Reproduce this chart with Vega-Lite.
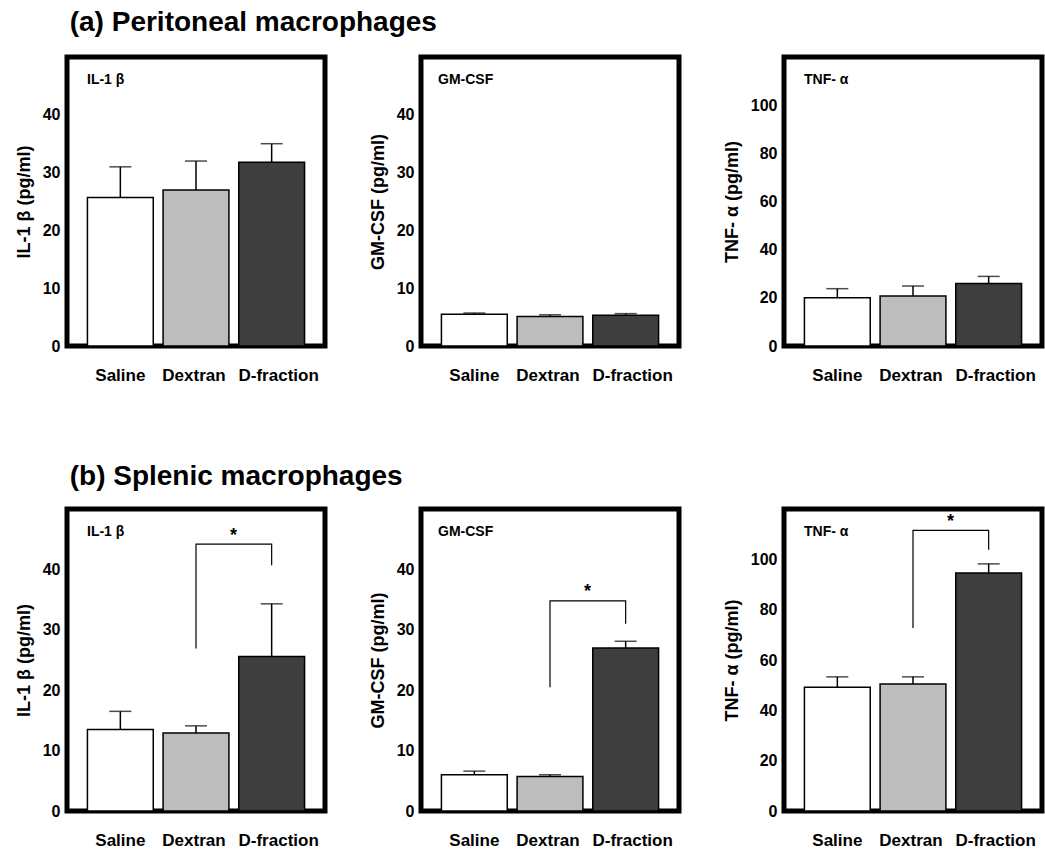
{
  "$schema": "https://vega.github.io/schema/vega-lite/v6.json",
  "padding": {"left": 12, "top": 8, "right": 0, "bottom": 0},
  "background": "white",
  "datasets": {
    "bars": [
      {"set": "a", "cyt": "IL", "group": "Saline", "mean": 25.7, "upper": 31.0},
      {"set": "a", "cyt": "IL", "group": "Dextran", "mean": 27.0, "upper": 32.0},
      {"set": "a", "cyt": "IL", "group": "D-fraction", "mean": 31.8, "upper": 35.0},
      {"set": "a", "cyt": "GM", "group": "Saline", "mean": 5.5, "upper": 5.7},
      {"set": "a", "cyt": "GM", "group": "Dextran", "mean": 5.1, "upper": 5.4},
      {"set": "a", "cyt": "GM", "group": "D-fraction", "mean": 5.3, "upper": 5.6},
      {"set": "a", "cyt": "TNF", "group": "Saline", "mean": 20.0, "upper": 23.8},
      {"set": "a", "cyt": "TNF", "group": "Dextran", "mean": 20.8, "upper": 24.9},
      {"set": "a", "cyt": "TNF", "group": "D-fraction", "mean": 25.9, "upper": 28.9},
      {"set": "b", "cyt": "IL", "group": "Saline", "mean": 13.5, "upper": 16.5},
      {"set": "b", "cyt": "IL", "group": "Dextran", "mean": 12.9, "upper": 14.1},
      {"set": "b", "cyt": "IL", "group": "D-fraction", "mean": 25.6, "upper": 34.3},
      {"set": "b", "cyt": "GM", "group": "Saline", "mean": 6.0, "upper": 6.6},
      {"set": "b", "cyt": "GM", "group": "Dextran", "mean": 5.7, "upper": 6.0},
      {"set": "b", "cyt": "GM", "group": "D-fraction", "mean": 27.0, "upper": 28.1},
      {"set": "b", "cyt": "TNF", "group": "Saline", "mean": 49.2, "upper": 53.3},
      {"set": "b", "cyt": "TNF", "group": "Dextran", "mean": 50.5, "upper": 53.3},
      {"set": "b", "cyt": "TNF", "group": "D-fraction", "mean": 94.6, "upper": 98.2}
    ],
    "brackets": [
      {"cyt": "IL", "group": "Dextran", "y": 26.9, "ord": 1},
      {"cyt": "IL", "group": "Dextran", "y": 44.2, "ord": 2},
      {"cyt": "IL", "group": "D-fraction", "y": 44.2, "ord": 3},
      {"cyt": "IL", "group": "D-fraction", "y": 40.7, "ord": 4},
      {"cyt": "GM", "group": "Dextran", "y": 20.5, "ord": 1},
      {"cyt": "GM", "group": "Dextran", "y": 34.8, "ord": 2},
      {"cyt": "GM", "group": "D-fraction", "y": 34.8, "ord": 3},
      {"cyt": "GM", "group": "D-fraction", "y": 31.0, "ord": 4},
      {"cyt": "TNF", "group": "Dextran", "y": 72.7, "ord": 1},
      {"cyt": "TNF", "group": "Dextran", "y": 111.5, "ord": 2},
      {"cyt": "TNF", "group": "D-fraction", "y": 111.5, "ord": 3},
      {"cyt": "TNF", "group": "D-fraction", "y": 103.8, "ord": 4}
    ],
    "stars": [
      {"cyt": "IL", "group": "Dextran", "y": 45.6, "label": "*"},
      {"cyt": "GM", "group": "Dextran", "y": 36.3, "label": "*"},
      {"cyt": "TNF", "group": "Dextran", "y": 115.0, "label": "*"}
    ]
  },
  "config": {
    "font": "Liberation Sans",
    "view": {"stroke": "black", "strokeWidth": 5},
    "axis": {
      "grid": false,
      "labelFont": "Liberation Sans",
      "titleFont": "Liberation Sans",
      "labelFontWeight": "bold",
      "titleFontWeight": "bold",
      "labelColor": "black",
      "titleColor": "black"
    },
    "axisX": {
      "domain": false, "ticks": false, "labelAngle": 0, "labelFontSize": 17, "labelPadding": 21,
      "labelOffset": {"condition": [{"test": "datum.value === 'D-fraction'", "value": 7}, {"test": "datum.value === 'Dextran'", "value": -2}], "value": 0}
    },
    "axisY": {"domain": false, "ticks": false, "labelFontSize": 16, "titleFontSize": 18, "labelPadding": 7, "titlePadding": 9},
    "concat": {"spacing": 76},
    "title": {"font": "Liberation Sans", "color": "black"}
  },
  "vconcat": [
    {
      "title": {"text": "(a) Peritoneal macrophages", "anchor": "start", "fontSize": 28, "fontWeight": "bold", "dx": 57, "offset": 18},
      "spacing": 38,
      "hconcat": [
        {
          "width": 258, "height": 289,
          "title": {"text": "IL-1 β", "anchor": "start", "frame": "group", "orient": "top", "offset": -30, "dx": 20, "fontSize": 14, "fontWeight": "bold"},
          "data": {"name": "bars"},
          "transform": [{"filter": "datum.set === 'a' && datum.cyt === 'IL'"}],
          "encoding": {"x": {"field": "group", "type": "nominal", "sort": ["Saline", "Dextran", "D-fraction"], "scale": {"paddingInner": 0.13, "paddingOuter": 0.27}, "title": null}},
          "layer": [
            {"mark": {"type": "bar", "stroke": "black", "strokeWidth": 1.5},
             "encoding": {"y": {"field": "mean", "type": "quantitative", "scale": {"domain": [0, 50]}, "axis": {"values": [0, 10, 20, 30, 40]}, "title": "IL-1 β  (pg/ml)"},
                          "fill": {"field": "group", "type": "nominal", "scale": {"domain": ["Saline", "Dextran", "D-fraction"], "range": ["#ffffff", "#bdbdbd", "#3e3e3e"]}, "legend": null}}},
            {"mark": {"type": "rule", "color": "black", "strokeWidth": 1.5}, "encoding": {"y": {"field": "mean", "type": "quantitative"}, "y2": {"field": "upper"}}},
            {"mark": {"type": "tick", "color": "black", "size": 22, "thickness": 1.5}, "encoding": {"y": {"field": "upper", "type": "quantitative"}}}
          ]
        },
        {
          "width": 258, "height": 289,
          "title": {"text": "GM-CSF", "anchor": "start", "frame": "group", "orient": "top", "offset": -30, "dx": 17, "fontSize": 14, "fontWeight": "bold"},
          "data": {"name": "bars"},
          "transform": [{"filter": "datum.set === 'a' && datum.cyt === 'GM'"}],
          "encoding": {"x": {"field": "group", "type": "nominal", "sort": ["Saline", "Dextran", "D-fraction"], "scale": {"paddingInner": 0.13, "paddingOuter": 0.27}, "title": null}},
          "layer": [
            {"mark": {"type": "bar", "stroke": "black", "strokeWidth": 1.5},
             "encoding": {"y": {"field": "mean", "type": "quantitative", "scale": {"domain": [0, 50]}, "axis": {"values": [0, 10, 20, 30, 40]}, "title": "GM-CSF (pg/ml)"},
                          "fill": {"field": "group", "type": "nominal", "scale": {"domain": ["Saline", "Dextran", "D-fraction"], "range": ["#ffffff", "#bdbdbd", "#3e3e3e"]}, "legend": null}}},
            {"mark": {"type": "rule", "color": "black", "strokeWidth": 1.5}, "encoding": {"y": {"field": "mean", "type": "quantitative"}, "y2": {"field": "upper"}}},
            {"mark": {"type": "tick", "color": "black", "size": 22, "thickness": 1.5}, "encoding": {"y": {"field": "upper", "type": "quantitative"}}}
          ]
        },
        {
          "width": 258, "height": 289,
          "title": {"text": "TNF- α", "anchor": "start", "frame": "group", "orient": "top", "offset": -30, "dx": 20, "fontSize": 14, "fontWeight": "bold"},
          "data": {"name": "bars"},
          "transform": [{"filter": "datum.set === 'a' && datum.cyt === 'TNF'"}],
          "encoding": {"x": {"field": "group", "type": "nominal", "sort": ["Saline", "Dextran", "D-fraction"], "scale": {"paddingInner": 0.13, "paddingOuter": 0.27}, "title": null}},
          "layer": [
            {"mark": {"type": "bar", "stroke": "black", "strokeWidth": 1.5},
             "encoding": {"y": {"field": "mean", "type": "quantitative", "scale": {"domain": [0, 120]}, "axis": {"values": [0, 20, 40, 60, 80, 100]}, "title": "TNF- α (pg/ml)"},
                          "fill": {"field": "group", "type": "nominal", "scale": {"domain": ["Saline", "Dextran", "D-fraction"], "range": ["#ffffff", "#bdbdbd", "#3e3e3e"]}, "legend": null}}},
            {"mark": {"type": "rule", "color": "black", "strokeWidth": 1.5}, "encoding": {"y": {"field": "mean", "type": "quantitative"}, "y2": {"field": "upper"}}},
            {"mark": {"type": "tick", "color": "black", "size": 22, "thickness": 1.5}, "encoding": {"y": {"field": "upper", "type": "quantitative"}}}
          ]
        }
      ]
    },
    {
      "title": {"text": "(b) Splenic macrophages", "anchor": "start", "fontSize": 28, "fontWeight": "bold", "dx": 57, "offset": 16},
      "spacing": 38,
      "hconcat": [
        {
          "width": 258, "height": 302,
          "title": {"text": "IL-1 β", "anchor": "start", "frame": "group", "orient": "top", "offset": -30, "dx": 20, "fontSize": 14, "fontWeight": "bold"},
          "encoding": {"x": {"field": "group", "type": "nominal", "sort": ["Saline", "Dextran", "D-fraction"], "scale": {"paddingInner": 0.13, "paddingOuter": 0.27}, "title": null}},
          "layer": [
            {"data": {"name": "bars"}, "transform": [{"filter": "datum.set === 'b' && datum.cyt === 'IL'"}],
             "mark": {"type": "bar", "stroke": "black", "strokeWidth": 1.5},
             "encoding": {"y": {"field": "mean", "type": "quantitative", "scale": {"domain": [0, 50]}, "axis": {"values": [0, 10, 20, 30, 40]}, "title": "IL-1 β  (pg/ml)"},
                          "fill": {"field": "group", "type": "nominal", "scale": {"domain": ["Saline", "Dextran", "D-fraction"], "range": ["#ffffff", "#bdbdbd", "#3e3e3e"]}, "legend": null}}},
            {"data": {"name": "bars"}, "transform": [{"filter": "datum.set === 'b' && datum.cyt === 'IL'"}],
             "mark": {"type": "rule", "color": "black", "strokeWidth": 1.5}, "encoding": {"y": {"field": "mean", "type": "quantitative"}, "y2": {"field": "upper"}}},
            {"data": {"name": "bars"}, "transform": [{"filter": "datum.set === 'b' && datum.cyt === 'IL'"}],
             "mark": {"type": "tick", "color": "black", "size": 22, "thickness": 1.5}, "encoding": {"y": {"field": "upper", "type": "quantitative"}}},
            {"data": {"name": "brackets"}, "transform": [{"filter": "datum.cyt === 'IL'"}],
             "mark": {"type": "line", "color": "black", "strokeWidth": 1.2}, "encoding": {"y": {"field": "y", "type": "quantitative"}, "order": {"field": "ord", "type": "quantitative"}}},
            {"data": {"name": "stars"}, "transform": [{"filter": "datum.cyt === 'IL'"}],
             "mark": {"type": "text", "fontSize": 18, "fontWeight": "bold", "baseline": "middle", "color": "black"},
             "encoding": {"x": {"field": "group", "type": "nominal", "sort": ["Saline", "Dextran", "D-fraction"], "bandPosition": 1.07}, "y": {"field": "y", "type": "quantitative"}, "text": {"field": "label"}}}
          ]
        },
        {
          "width": 258, "height": 302,
          "title": {"text": "GM-CSF", "anchor": "start", "frame": "group", "orient": "top", "offset": -30, "dx": 17, "fontSize": 14, "fontWeight": "bold"},
          "encoding": {"x": {"field": "group", "type": "nominal", "sort": ["Saline", "Dextran", "D-fraction"], "scale": {"paddingInner": 0.13, "paddingOuter": 0.27}, "title": null}},
          "layer": [
            {"data": {"name": "bars"}, "transform": [{"filter": "datum.set === 'b' && datum.cyt === 'GM'"}],
             "mark": {"type": "bar", "stroke": "black", "strokeWidth": 1.5},
             "encoding": {"y": {"field": "mean", "type": "quantitative", "scale": {"domain": [0, 50]}, "axis": {"values": [0, 10, 20, 30, 40]}, "title": "GM-CSF (pg/ml)"},
                          "fill": {"field": "group", "type": "nominal", "scale": {"domain": ["Saline", "Dextran", "D-fraction"], "range": ["#ffffff", "#bdbdbd", "#3e3e3e"]}, "legend": null}}},
            {"data": {"name": "bars"}, "transform": [{"filter": "datum.set === 'b' && datum.cyt === 'GM'"}],
             "mark": {"type": "rule", "color": "black", "strokeWidth": 1.5}, "encoding": {"y": {"field": "mean", "type": "quantitative"}, "y2": {"field": "upper"}}},
            {"data": {"name": "bars"}, "transform": [{"filter": "datum.set === 'b' && datum.cyt === 'GM'"}],
             "mark": {"type": "tick", "color": "black", "size": 22, "thickness": 1.5}, "encoding": {"y": {"field": "upper", "type": "quantitative"}}},
            {"data": {"name": "brackets"}, "transform": [{"filter": "datum.cyt === 'GM'"}],
             "mark": {"type": "line", "color": "black", "strokeWidth": 1.2}, "encoding": {"y": {"field": "y", "type": "quantitative"}, "order": {"field": "ord", "type": "quantitative"}}},
            {"data": {"name": "stars"}, "transform": [{"filter": "datum.cyt === 'GM'"}],
             "mark": {"type": "text", "fontSize": 18, "fontWeight": "bold", "baseline": "middle", "color": "black"},
             "encoding": {"x": {"field": "group", "type": "nominal", "sort": ["Saline", "Dextran", "D-fraction"], "bandPosition": 1.07}, "y": {"field": "y", "type": "quantitative"}, "text": {"field": "label"}}}
          ]
        },
        {
          "width": 258, "height": 302,
          "title": {"text": "TNF- α", "anchor": "start", "frame": "group", "orient": "top", "offset": -30, "dx": 20, "fontSize": 14, "fontWeight": "bold"},
          "encoding": {"x": {"field": "group", "type": "nominal", "sort": ["Saline", "Dextran", "D-fraction"], "scale": {"paddingInner": 0.13, "paddingOuter": 0.27}, "title": null}},
          "layer": [
            {"data": {"name": "bars"}, "transform": [{"filter": "datum.set === 'b' && datum.cyt === 'TNF'"}],
             "mark": {"type": "bar", "stroke": "black", "strokeWidth": 1.5},
             "encoding": {"y": {"field": "mean", "type": "quantitative", "scale": {"domain": [0, 120]}, "axis": {"values": [0, 20, 40, 60, 80, 100]}, "title": "TNF- α (pg/ml)"},
                          "fill": {"field": "group", "type": "nominal", "scale": {"domain": ["Saline", "Dextran", "D-fraction"], "range": ["#ffffff", "#bdbdbd", "#3e3e3e"]}, "legend": null}}},
            {"data": {"name": "bars"}, "transform": [{"filter": "datum.set === 'b' && datum.cyt === 'TNF'"}],
             "mark": {"type": "rule", "color": "black", "strokeWidth": 1.5}, "encoding": {"y": {"field": "mean", "type": "quantitative"}, "y2": {"field": "upper"}}},
            {"data": {"name": "bars"}, "transform": [{"filter": "datum.set === 'b' && datum.cyt === 'TNF'"}],
             "mark": {"type": "tick", "color": "black", "size": 22, "thickness": 1.5}, "encoding": {"y": {"field": "upper", "type": "quantitative"}}},
            {"data": {"name": "brackets"}, "transform": [{"filter": "datum.cyt === 'TNF'"}],
             "mark": {"type": "line", "color": "black", "strokeWidth": 1.2}, "encoding": {"y": {"field": "y", "type": "quantitative"}, "order": {"field": "ord", "type": "quantitative"}}},
            {"data": {"name": "stars"}, "transform": [{"filter": "datum.cyt === 'TNF'"}],
             "mark": {"type": "text", "fontSize": 18, "fontWeight": "bold", "baseline": "middle", "color": "black"},
             "encoding": {"x": {"field": "group", "type": "nominal", "sort": ["Saline", "Dextran", "D-fraction"], "bandPosition": 1.07}, "y": {"field": "y", "type": "quantitative"}, "text": {"field": "label"}}}
          ]
        }
      ]
    }
  ]
}
